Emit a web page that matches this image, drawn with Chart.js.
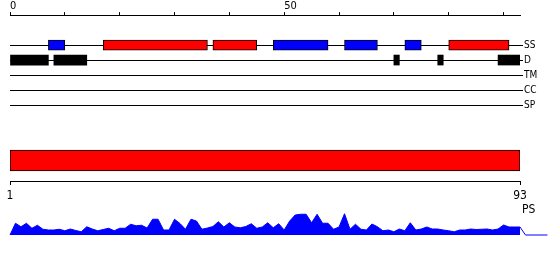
<!DOCTYPE html>
<html>
<head>
<meta charset="utf-8">
<script src="https://cdn.jsdelivr.net/npm/chart.js@4.4.1/dist/chart.umd.min.js"></script>
<style>
  body { margin: 0; background: #fff; }
  #wrap { position: relative; width: 550px; height: 260px; }
  canvas { position: absolute; left: 0; }
</style>
</head>
<body>
<div id="wrap">
  <canvas id="tracks" width="550" height="115" style="top:0px"></canvas>
  <canvas id="seq" width="550" height="66" style="top:140px"></canvas>
  <canvas id="ps" width="550" height="60" style="top:200px"></canvas>
</div>
<script>
// sequence and feature tracks
const seqLength = 93
const tracks = ['SS', 'D', 'TM', 'CC', 'SP']
const helices = [[17, 36], [37, 45], [80, 91]]
const strands = [[7, 10], [48, 58], [61, 67], [72, 75]]
const disorder = [[0, 7], [8, 14], [70, 71], [78, 79], [89, 93]]
const topTickLabels = [0, 50]
const seqRange = [1, 93]
const seqTicks = [1, 93]
// per-residue PS score, residues 1..93
const psScores = [
  0.47, 0.33, 0.47, 0.27, 0.39, 0.23, 0.20, 0.20, 0.23, 0.17,
  0.24, 0.18, 0.13, 0.33, 0.24, 0.17, 0.22, 0.27, 0.17, 0.27,
  0.27, 0.43, 0.37, 0.39, 0.28, 0.63, 0.63, 0.20, 0.20, 0.63,
  0.46, 0.23, 0.63, 0.56, 0.23, 0.28, 0.34, 0.53, 0.32, 0.49,
  0.32, 0.29, 0.34, 0.45, 0.27, 0.32, 0.49, 0.29, 0.45, 0.20,
  0.56, 0.80, 0.83, 0.83, 0.49, 0.83, 0.47, 0.47, 0.23, 0.32,
  0.85, 0.23, 0.43, 0.23, 0.20, 0.44, 0.33, 0.17, 0.20, 0.13,
  0.24, 0.17, 0.49, 0.20, 0.24, 0.32, 0.24, 0.24, 0.20, 0.17,
  0.13, 0.20, 0.20, 0.24, 0.22, 0.23, 0.24, 0.20, 0.24, 0.40,
  0.32, 0.32, 0.32
]
const psTailEnd = 98

Chart.defaults.font.family = "'DejaVu Sans Condensed', 'DejaVu Sans', sans-serif"
Chart.defaults.color = '#000'
Chart.defaults.animation = false
Chart.defaults.responsive = false
Chart.defaults.devicePixelRatio = 1
Chart.defaults.plugins.legend.display = false
Chart.defaults.plugins.tooltip.enabled = false

// tracks sit two rows below the top axis
const TRACK_OFFSET = 2
const trackY = name => tracks.indexOf(name) + TRACK_OFFSET
const onTrack = (list, name) => list.map(r => ({ x: r, y: trackY(name) }))

const boxStyle = { borderColor: '#000', borderWidth: 1, borderSkipped: false, barThickness: 10, grouped: false }

new Chart(document.getElementById('tracks'), {
  type: 'bar',
  data: {
    datasets: [
      { ...boxStyle, data: onTrack(helices, 'SS'), backgroundColor: '#ff0000' },
      { ...boxStyle, data: onTrack(strands, 'SS'), backgroundColor: '#0000ff' },
      { ...boxStyle, data: onTrack(disorder, 'D'), backgroundColor: '#000', borderWidth: 0 }
    ]
  },
  options: {
    indexAxis: 'y',
    layout: { padding: { left: 10, right: 0, top: 0, bottom: 10 } },
    scales: {
      x: {
        type: 'linear',
        position: 'top',
        min: 0,
        max: seqLength,
        grid: { drawOnChartArea: false, tickLength: 3, color: '#000' },
        border: { color: '#000' },
        ticks: {
          stepSize: 10,
          includeBounds: false,
          autoSkip: false,
          maxRotation: 0,
          align: 'start',
          padding: 0,
          font: { size: 11, lineHeight: 1.1 },
          callback: v => topTickLabels.includes(v) ? String(v) : ''
        }
      },
      y: {
        type: 'linear',
        position: 'right',
        reverse: true,
        offset: false,
        min: 0,
        max: tracks.length - 1 + TRACK_OFFSET,
        afterBuildTicks: s => { s.ticks = tracks.map(t => ({ value: trackY(t) })) },
        afterFit: s => { s.width = 30 },
        grid: { offset: false, color: '#000', tickLength: 3 },
        border: { display: false },
        ticks: {
          autoSkip: false,
          padding: 1,
          font: { size: 10 },
          callback: v => tracks[v - TRACK_OFFSET]
        }
      }
    }
  }
})

new Chart(document.getElementById('seq'), {
  type: 'bar',
  data: {
    labels: ['seq'],
    datasets: [{
      data: [seqRange],
      backgroundColor: '#ff0000',
      borderColor: '#000',
      borderWidth: 1,
      borderSkipped: false,
      barThickness: 21
    }]
  },
  options: {
    indexAxis: 'y',
    layout: { padding: { left: 10, right: 30, top: 0, bottom: 0 } },
    scales: {
      x: {
        type: 'linear',
        min: seqRange[0],
        max: seqRange[1],
        afterBuildTicks: s => { s.ticks = seqTicks.map(v => ({ value: v })) },
        grid: { drawOnChartArea: false, tickLength: 4, color: '#000' },
        border: { color: '#000' },
        ticks: { autoSkip: false, maxRotation: 0, padding: 3, font: { size: 12, lineHeight: 1.25 } }
      },
      y: { display: false }
    }
  }
})

const psPoints = [{ x: 0, y: 0 }]
  .concat(psScores.map((v, i) => ({ x: i + 1, y: v })))
  .concat([{ x: seqLength + 1, y: 0 }, { x: psTailEnd, y: 0 }])

new Chart(document.getElementById('ps'), {
  type: 'line',
  data: {
    datasets: [{
      data: psPoints,
      borderColor: '#0000ff',
      backgroundColor: '#0000ff',
      borderWidth: 1,
      fill: 'origin',
      pointRadius: 0,
      tension: 0,
      clip: false
    }]
  },
  options: {
    layout: { padding: { left: 10, right: 0, top: 10, bottom: 25 } },
    scales: {
      x: {
        type: 'linear',
        display: false,
        bounds: 'data',
        afterDataLimits: s => { s.min = 0; s.max = seqLength }
      },
      y: {
        type: 'linear',
        position: 'right',
        min: 0,
        max: 1,
        afterBuildTicks: s => { s.ticks = [{ value: 1 }] },
        afterFit: s => { s.width = 30 },
        grid: { display: false, drawTicks: false, tickLength: 0 },
        border: { display: false },
        ticks: { padding: 2, font: { size: 12 }, callback: () => 'PS' }
      }
    }
  }
})
</script>
</body>
</html>
